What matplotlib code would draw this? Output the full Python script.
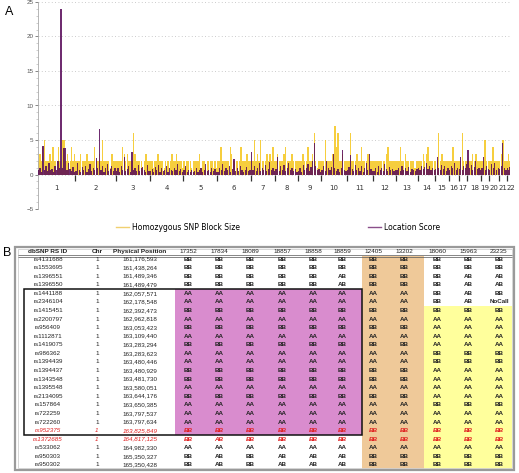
import matplotlib
matplotlib.use('Agg')
import matplotlib.pyplot as plt
from matplotlib.patches import Rectangle
from matplotlib.lines import Line2D
import numpy as np

plt.rcParams['font.family'] = ['Liberation Sans', 'DejaVu Sans']

# ---- panel A data: SNPs per chromosome (estimated) and per-chromosome scores
chrom_names = [str(i) for i in range(1, 23)]
snps_per_chr = [902, 970, 816, 806, 816, 802, 590, 538, 566, 610, 638,
                552, 514, 415, 329, 240, 206, 336, 185, 240, 185, 79]

block_size = [
    "23245222324222421552322423", "22232223222242232522221322",
    "2222432322263222212322", "2212232221222232232221",
    "2122212222312212222121", "2242222243222224222322",
    "2252325222323242", "23222342223222", "222322422362122",
    "2252222374622322", "22622232242223222", "222222223422222",
    "2242232222212", "22232342222", "226232222", "224222", "226222",
    "222323222", "22522", "224222", "23522", "232",
]

location_score = [
    [0.6, 0.9, 0.4, 4.2, 0.7, 1.2, 0.5, 1.6, 0.6, 0.8, 0.4, 1.3, 0.7, 1.9, 1.0,
     24.0, 0.9, 3.9, 3.8, 0.6, 1.7, 0.8, 0.5, 1.1, 0.4],
    [0.5, 1.6, 0.6, 0.4, 1.1, 0.6, 1.3, 0.4, 0.8, 1.5, 0.5, 1.0, 0.7, 2.4, 0.9,
     6.6, 0.6, 1.2, 0.4, 0.9, 1.5, 0.5, 0.8, 1.2, 0.5, 0.9],
    [0.5, 0.9, 0.4, 1.3, 0.7, 2.5, 0.5, 0.8, 1.2, 0.4, 3.3, 0.7, 1.0, 0.5, 1.4,
     0.5, 0.9, 1.1, 0.6, 0.3, 1.4, 0.5],
    [0.5, 0.8, 0.3, 1.1, 0.6, 1.4, 0.4, 0.9, 0.5, 0.7, 1.2, 0.4, 0.9, 0.6, 0.5,
     1.0, 0.7, 1.5, 0.5, 0.8, 0.4],
    [0.6, 1.2, 0.4, 0.7, 0.3, 0.6, 0.3, 0.5, 0.9, 0.3, 0.6, 0.9, 0.4, 0.6, 1.5,
     0.5, 0.7, 0.3, 1.0, 0.5, 0.8, 0.4],
    [0.4, 0.9, 0.6, 1.5, 0.5, 1.0, 0.7, 1.3, 0.4, 0.8, 2.2, 0.5, 0.9, 0.5, 1.3,
     0.7, 0.3, 0.7, 1.1, 0.5, 0.6],
    [3.3, 0.7, 1.2, 0.5, 0.9, 1.7, 0.5, 1.0, 0.7, 1.4, 0.5, 0.8, 1.8, 0.6, 0.9, 0.5],
    [0.8, 2.5, 0.5, 1.2, 0.7, 1.4, 0.5, 0.9, 1.6, 0.6, 1.0, 0.5, 0.8, 0.4],
    [0.5, 1.0, 0.4, 1.4, 0.6, 0.9, 1.5, 0.5, 1.1, 2.0, 4.5, 1.2, 0.6, 0.8, 0.4],
    [0.7, 1.2, 0.5, 1.9, 0.9, 0.6, 1.1, 3.0, 1.0, 0.5, 0.8, 0.4, 1.0, 3.5, 0.7, 0.5],
    [0.6, 1.1, 2.8, 0.8, 0.5, 1.4, 0.7, 1.0, 0.5, 1.2, 0.4, 0.9, 1.6, 0.6, 3.0,
     0.8, 0.5],
    [0.5, 0.9, 0.4, 1.2, 0.7, 1.0, 0.5, 1.5, 0.8, 0.5, 1.1, 0.6, 0.8, 0.5, 0.7],
    [0.6, 1.0, 0.5, 1.3, 0.7, 0.9, 0.5, 1.1, 0.4, 0.8, 0.6, 0.5, 0.8],
    [0.9, 0.7, 1.3, 0.8, 1.1, 1.6, 0.8, 1.3, 0.7, 1.0, 0.6],
    [0.8, 2.5, 1.0, 0.6, 1.4, 0.8, 1.2, 0.5, 0.9],
    [0.7, 1.3, 0.9, 1.6, 0.6, 1.0],
    [0.8, 2.5, 0.7, 1.3, 0.9, 1.5],
    [3.5, 0.9, 1.4, 0.6, 1.1, 1.9, 0.8, 1.0, 0.7],
    [0.9, 2.5, 0.7, 1.2, 0.8],
    [0.7, 1.5, 1.0, 1.7, 0.6, 1.0],
    [0.8, 1.3, 4.5, 0.9, 0.6],
    [1.0, 0.7, 1.1],
]

# ---- panel B data
samples = ["17352", "17834", "18089", "18857", "18858", "18859",
           "12405", "13202", "18060", "15963", "23235"]
rs_ids = ["rs4131688", "rs1553695", "rs1396551", "rs1396550", "rs1441188",
          "rs2346104", "rs1415451", "rs2200797", "rs956409", "rs1112871",
          "rs1419075", "rs986362", "rs1394439", "rs1394437", "rs1343548",
          "rs1395548", "rs2134095", "rs157864", "rs722259", "rs722260",
          "rs952375", "rs1372685", "rs533062", "rs950303", "rs950302"]
chrom = ["1"] * len(rs_ids)
phys_pos = ["161,176,593", "161,438,264", "161,489,346", "161,489,479",
            "162,057,571", "162,178,548", "162,392,473", "162,962,818",
            "163,053,423", "163,109,440", "163,283,294", "163,283,623",
            "163,480,446", "163,480,929", "163,481,730", "163,580,051",
            "163,644,176", "163,650,385", "163,797,537", "163,797,634",
            "163,825,849", "164,817,125", "164,982,330", "165,350,327",
            "165,350,428"]
genotypes = [
    "BB BB BB BB BB BB BB BB BB BB BB",
    "BB BB BB BB BB BB BB BB BB BB BB",
    "BB BB BB BB BB AB BB BB BB AB AB",
    "BB BB BB BB BB AB BB BB BB AB AB",
    "AA AA AA AA AA AA AA AA BB AB BB",
    "AA AA AA AA AA AA AA AA BB AB NoCall",
    "BB BB BB BB BB BB BB BB BB BB BB",
    "AA AA AA AA AA AA AA AA AA AA AA",
    "BB BB BB BB BB BB BB BB AA AA AA",
    "AA AA AA AA AA AA AA AA AA AA AA",
    "BB BB BB BB BB BB BB BB AA AA AA",
    "AA AA AA AA AA AA AA AA BB BB BB",
    "AA AA AA AA AA AA AA AA BB BB BB",
    "BB BB BB BB BB BB BB BB AA AA AA",
    "BB BB BB BB BB BB BB BB AA AA AA",
    "AA AA AA AA AA AA AA AA AA AA AA",
    "BB BB BB BB BB BB BB BB AA AA AA",
    "AA AA AA AA AA AA AA AA BB BB BB",
    "AA AA AA AA AA AA AA AA AA AA AA",
    "AA AA AA AA AA AA AA AA AA AA AA",
    "BB BB BB BB BB BB BB BB BB BB BB",
    "BB AB BB BB BB BB BB BB BB BB BB",
    "AA AA AA AA AA AA AA AA AA AA AA",
    "BB AB BB AB AB AB BB BB BB BB BB",
    "BB AB BB AB AB AB BB BB BB BB BB",
]
red_rows = [20, 21]

W, H = 519, 473
fig = plt.figure(figsize=(W / 100, H / 100), dpi=100)

# ================= panel A =================
ax = fig.add_axes([37.7 / W, 1 - 209 / H, 472.3 / W, 207 / H])
bounds = np.concatenate([[0], np.cumsum(snps_per_chr)])
total = bounds[-1]

YEL = '#f4c20d'
PUR = '#560757'
for k in range(22):
    s, w = bounds[k], snps_per_chr[k]
    yv = [int(c) for c in block_size[k]]
    n = len(yv)
    xs = s + (np.arange(n) + 0.5) * w / n
    ax.bar(xs, yv, width=w / n * 0.9, color=YEL, alpha=0.8, linewidth=0, zorder=2)
    pv = location_score[k]
    n = len(pv)
    xs = s + (np.arange(n) + 0.5) * w / n
    ax.bar(xs, pv, width=w / n * 0.75, color=PUR, alpha=0.85, linewidth=0, zorder=3)

ax.set_xlim(0, total)
ax.set_ylim(-5, 25)
ax.set_yticks(range(-5, 26, 5))
ax.yaxis.grid(True, linestyle=(0, (1, 3)), color='#bbbbbb', linewidth=0.6)
ax.set_axisbelow(True)
ax.set_xticks([])
for sp in ['top', 'right', 'bottom']:
    ax.spines[sp].set_visible(False)
ax.spines['left'].set_color('#aaaaaa')
ax.spines['left'].set_linewidth(0.6)
ax.tick_params(axis='y', labelsize=4.5, colors='#555555', length=2, width=0.5,
               pad=1)
ax.set_yticks(range(-5, 26), minor=True)
ax.tick_params(axis='y', which='minor', length=1.2, width=0.4, color='#aaaaaa')

ax.vlines(bounds[1:-1], -1.0, 0, color='#333333', linewidth=0.9, zorder=4)
centers = (bounds[:-1] + bounds[1:]) / 2
for k, (c, name) in enumerate(zip(centers, chrom_names)):
    if k == 21:
        ax.text(bounds[21] + 5, -1.9, name, ha='left', va='center',
                fontsize=5.0, color='#333333', family=['DejaVu Sans'])
    else:
        ax.text(c, -1.9, name, ha='center', va='center', fontsize=5.0,
                color='#333333', family=['DejaVu Sans'])

handles = [Line2D([], [], color='#f0d070', lw=1.0),
           Line2D([], [], color='#8a4f8a', lw=1.0)]
fig.legend(handles, ['Homozygous SNP Block Size', 'Location Score'],
           loc='center', bbox_to_anchor=(278 / W, 1 - 227 / H), ncol=2,
           frameon=False, handlelength=1.7, handletextpad=0.4,
           columnspacing=16.8, prop={'family': 'DejaVu Sans', 'size': 5.5})

# ================= panel B (pixel coordinates) =================
tb = fig.add_axes([0, 0, 1, 1], zorder=-1)
tb.set_xlim(0, W)
tb.set_ylim(H, 0)
tb.axis('off')

fig.text(5 / W, 1 - 12 / H, 'A', fontsize=9, ha='left', va='center')
fig.text(3 / W, 1 - 253 / H, 'B', fontsize=9, ha='left', va='center')

col_x = [48, 97, 140, 188, 219, 250, 282, 313, 342, 373, 404, 437, 468, 499]
header_y = 251
row0, dy = 259.0, 8.58
row_y = [row0 + i * dy for i in range(len(rs_ids))]
bot_body = row_y[-1] + dy / 2

# shaded blocks
tb.add_patch(Rectangle((175, row_y[4] - dy / 2), 362 - 175,
                       row_y[20] - row_y[4] + dy, color='#d98cce', lw=0))
tb.add_patch(Rectangle((362, 256), 424 - 362, bot_body - 256,
                       color='#efc999', lw=0))
tb.add_patch(Rectangle((424, row_y[6] - dy / 2), 512 - 424,
                       bot_body - row_y[6] + dy / 2, color='#ffff9c', lw=0))
# black box
tb.add_patch(Rectangle((24, row_y[4] - dy / 2), 362 - 24,
                       row_y[20] - row_y[4] + dy, fill=False, ec='#111111',
                       lw=1.1))
# frame
tb.add_patch(Rectangle((15, 247), 499, 223, fill=False, ec='#9a9a9a', lw=1.6))
tb.add_patch(Rectangle((17.5, 249), 494, 219, fill=False, ec='#d0d0d0', lw=0.6))
tb.hlines([255.2, 256.8], 17.5, 511.5, color='#555555', lw=0.5)

headers = ['dbSNP RS ID', 'Chr', 'Physical Position'] + samples
for x, h in zip(col_x, headers):
    tb.text(x, header_y, h, ha='center', va='center', fontsize=4.6,
            fontweight='bold' if x < 180 else 'normal', color='#222222')

for i, y in enumerate(row_y):
    red = i in red_rows
    kw = dict(ha='center', va='center', fontsize=4.5,
              color='#e02020' if red else '#222222',
              style='italic' if red else 'normal')
    tb.text(col_x[0], y, rs_ids[i], **kw)
    tb.text(col_x[1], y, chrom[i], **kw)
    tb.text(col_x[2], y, phys_pos[i], **kw)
    for j, g in enumerate(genotypes[i].split()):
        tb.text(col_x[3 + j], y, g, fontweight='bold', **kw)

fig.savefig('out.png', dpi=100)
